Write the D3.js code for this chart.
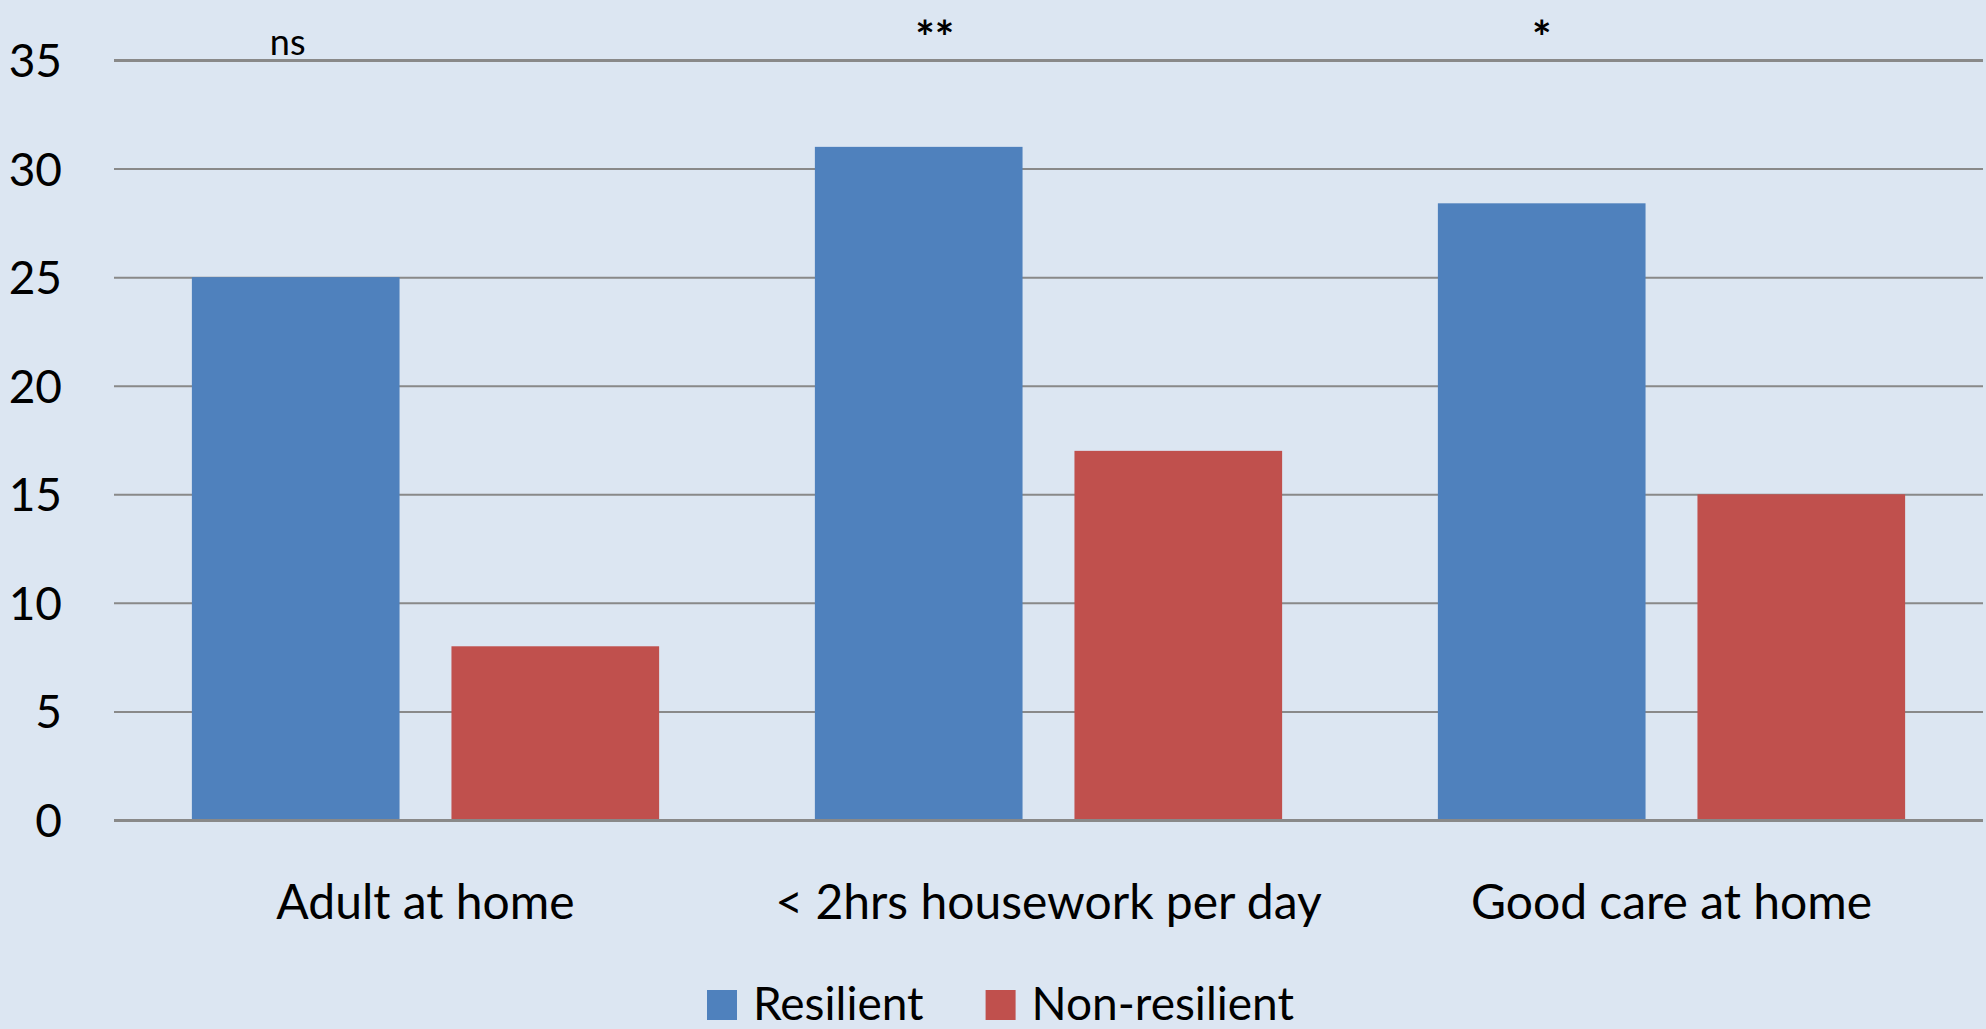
<!DOCTYPE html>
<html>
<head>
<meta charset="utf-8">
<script src="https://cdn.jsdelivr.net/npm/d3@7"></script>
<style>
  body { margin: 0; background: #DCE6F2; }
  svg { display: block; }
  text { font-family: Lato, "Open Sans", sans-serif; fill: #000; }
</style>
</head>
<body>
<svg id="chart" width="1986" height="1029"></svg>
<script>
var categories = ["Adult at home", "< 2hrs housework per day", "Good care at home"]
var seriesNames = ["Resilient", "Non-resilient"]
var resilient = [25, 31, 28.4]
var nonResilient = [8, 17, 15]
var significance = ["ns", "**", "*"]
var yTicks = [0, 5, 10, 15, 20, 25, 30, 35]

var colors = {"Resilient": "#4F81BD", "Non-resilient": "#C0504D"}

var canvas = d3.select("#chart")
var margin = {top: 60, bottom: 209, left: 114, right: 3}
var width = 1986, height = 1029

canvas.append("rect")
      .attr("width", width)
      .attr("height", height)
      .attr("fill", "#DCE6F2")

var x0 = d3.scaleBand()
           .domain(categories)
           .range([margin.left, width - margin.right])
           .padding(0)

var x1 = d3.scaleBand()
           .domain(seriesNames)
           .range([0, x0.bandwidth()])
           .paddingInner(0.2)
           .paddingOuter(0.3)

var y = d3.scaleLinear()
          .domain([0, 35])
          .range([height - margin.bottom, margin.top])

// gridlines + tick labels
var yAxis = d3.axisLeft(y)
              .tickValues(yTicks)
              .tickSize(-(width - margin.right - margin.left))
              .tickPadding(52)

var yAxisG = canvas.append("g")
                   .attr("class", "yAxis")
                   .attr("transform", "translate(" + margin.left + ",0)")
                   .call(yAxis)

yAxisG.select(".domain").remove()
yAxisG.selectAll("line")
      .attr("stroke", "#898989")
      .attr("stroke-width", function(d){ return (d == 35) ? 3 : 2 })
yAxisG.selectAll("text")
      .attr("font-size", "46px")
      .attr("font-family", "Lato, sans-serif")
      .attr("fill", "#000")
      .attr("dy", "0.36em")

// bars
var rows = categories.map(function(c, i){
  return {cat: c, values: [{name: "Resilient", value: resilient[i]}, {name: "Non-resilient", value: nonResilient[i]}]}
})

var groups = canvas.append("g").attr("id", "barGroup")
                   .selectAll("g").data(rows).enter()
                   .append("g")
                   .attr("transform", function(d){ return "translate(" + x0(d.cat) + ",0)" })

groups.selectAll("rect").data(function(d){ return d.values }).enter()
      .append("rect")
      .attr("x", function(d){ return x1(d.name) })
      .attr("y", function(d){ return y(d.value) })
      .attr("width", x1.bandwidth())
      .attr("height", function(d){ return y(0) - y(d.value) })
      .attr("fill", function(d){ return colors[d.name] })

// zero line on top
canvas.append("line")
      .attr("x1", margin.left)
      .attr("x2", width - margin.right)
      .attr("y1", y(0) + 0.5)
      .attr("y2", y(0) + 0.5)
      .attr("stroke", "#898989")
      .attr("stroke-width", 3)

// category labels
canvas.append("g").selectAll("text").data(categories).enter()
      .append("text")
      .attr("x", function(d){ return x0(d) + x0.bandwidth() / 2 })
      .attr("y", 919)
      .attr("text-anchor", "middle")
      .attr("font-size", "48px")
      .text(function(d){ return d })

// significance marks above the resilient bar
var sigShift = {"ns": -8, "**": 16, "*": 0}
canvas.append("g").selectAll("text").data(significance).enter()
      .append("text")
      .attr("x", function(d, i){ return x0(categories[i]) + x1("Resilient") + x1.bandwidth() / 2 + sigShift[d] })
      .attr("y", function(d){ return d == "ns" ? 55 : 54 })
      .attr("text-anchor", "middle")
      .attr("font-size", function(d){ return d == "ns" ? "36px" : "46px" })
      .attr("font-weight", function(d){ return d == "ns" ? "normal" : "bold" })
      .text(function(d){ return d })

// legend
var legend = canvas.append("g").attr("id", "legend")
var lx = 707
seriesNames.forEach(function(name){
  legend.append("rect")
        .attr("x", lx)
        .attr("y", 990)
        .attr("width", 30)
        .attr("height", 30)
        .attr("fill", colors[name])
  var t = legend.append("text")
        .attr("x", lx + 46)
        .attr("y", 1020)
        .attr("font-size", "46px")
        .text(name)
  lx = lx + 46 + t.node().getComputedTextLength() + 62
})
</script>
</body>
</html>
